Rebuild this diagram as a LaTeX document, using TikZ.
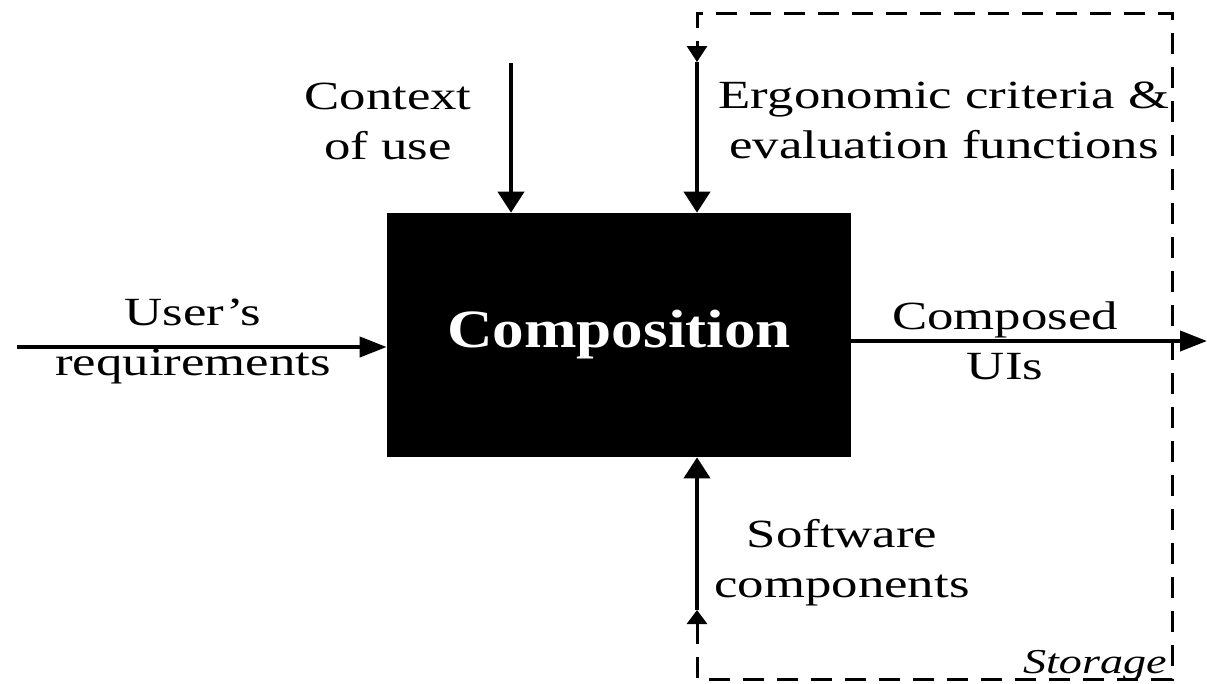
\documentclass[tikz,border=0pt]{standalone}
\usepackage{fontspec}
\setmainfont{Liberation Serif}[FakeStretch=1.32]
\newfontfamily\compfont{Liberation Serif}[FakeStretch=1.17]
\usetikzlibrary{arrows.meta}
\tikzset{
  flowv/.style={line width=2.3pt,-{Triangle[length=0.42cm,width=0.52cm]}},
  flowh/.style={line width=2.3pt,-{Triangle[length=0.54cm,width=0.4cm]}},
  store/.style={line width=1.7pt,dash pattern=on 0.42cm off 0.26cm,
    {Triangle[length=0.28cm,width=0.4cm]}-{Triangle[length=0.32cm,width=0.4cm]}},
  lbl/.style={align=center,inner sep=0pt,font=\fontsize{22.76}{28.45}\selectfont},
}
\begin{document}
\begin{tikzpicture}[x=0.2mm,y=-0.2mm]
\useasboundingbox (0,0) rectangle (1207,683);

% the activity box
\node[fill=black,minimum width=9.28cm,minimum height=4.88cm,inner sep=0pt,
  text=white,font=\compfont\bfseries\fontsize{30.7}{36}\selectfont] (comp) at (619,335) {Composition};

% free ends of the flows
\coordinate (ctxtop) at (511,63);
\coordinate (ergtop) at (697,62);
\coordinate (swbot) at (697,610);
\coordinate (usrin) at (17,347);
\coordinate (uiout) at (1207,341);
\coordinate (stse) at (1172,679);
\coordinate (stne) at (1172,13);

\draw[flowv] (ctxtop) -- (ctxtop |- comp.north);
\draw[flowv] (ergtop) -- (ergtop |- comp.north);
\draw[flowv] (swbot) -- (swbot |- comp.south);
\draw[flowh] (usrin) -- (usrin -| comp.west);
\draw[flowh] (comp.east |- uiout) -- (uiout);

% storage loop
\draw[store] (swbot) |- (stse) -- (stne) -| (ergtop);

\node[lbl] (ctx) at (388,121) {Context\\of use};
\node[lbl] (erg) at (944,120) {Ergonomic criteria \&\\evaluation functions};
\node[lbl] (usr) at (193,341) {User's\\requirements};
\node[lbl] (ui) at (1005,341) {Composed\\UIs};
\node[lbl] (sw) at (842,563) {Software\\components};
\node[inner sep=0pt,anchor=base east,font=\itshape\fontsize{19.9}{24}\selectfont] (stor) at (1167,673) {Storage};
\end{tikzpicture}
\end{document}
